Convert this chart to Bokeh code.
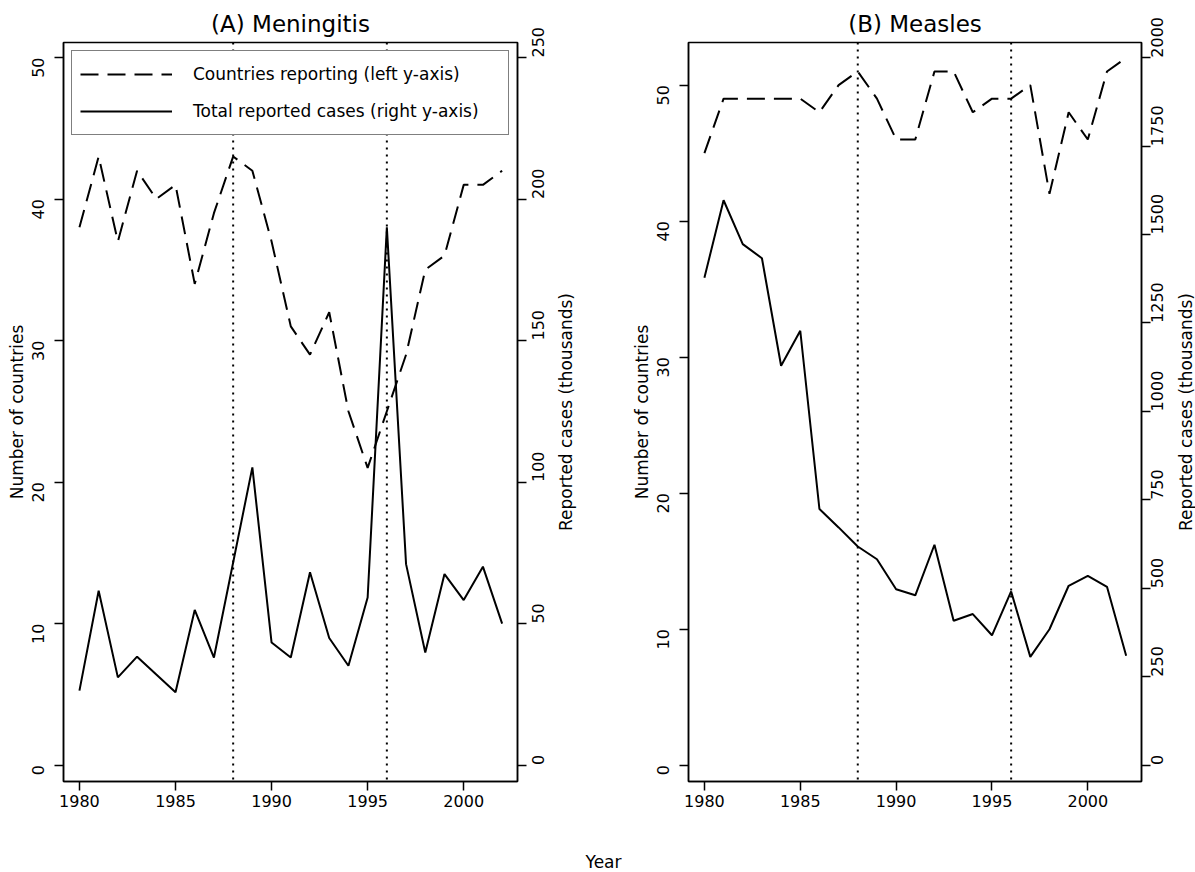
import math
from bokeh.plotting import figure
from bokeh.models import Range1d, LinearAxis, FixedTicker, Span, Legend, LegendItem, Label
from bokeh.layouts import row, column
from bokeh.embed import file_html
from bokeh.resources import INLINE

# ---- data ----
years = list(range(1980, 2003))
men_countries = [38, 43, 37, 42, 40, 41, 34, 39, 43, 42, 37, 31, 29, 32, 25, 21, 25, 29, 35, 36, 41, 41, 42]
men_cases = [26.3, 61.6, 31.0, 38.3, 32.0, 25.7, 54.8, 38.0, 71.6, 105.2, 43.3, 38.0, 68.1, 44.9, 35.1,
             59.2, 190.0, 71.0, 39.8, 67.5, 58.3, 70.1, 50.0]
mea_countries = [45, 49, 49, 49, 49, 49, 48, 50, 51, 49, 46, 46, 51, 51, 48, 49, 49, 50, 42, 48, 46, 51, 52]
mea_cases = [1378, 1597, 1473, 1433, 1129, 1228, 724, 672, 618, 582, 497, 480, 623, 408, 427,
             367, 491, 306, 384, 507, 535, 504, 309]
event_years = [1988, 1996]
x_ticks = [1980, 1985, 1990, 1995, 2000]
men_left_ticks = [0, 10, 20, 30, 40, 50]
men_right_ticks = [0, 50, 100, 150, 200, 250]
mea_left_ticks = [0, 10, 20, 30, 40, 50]
mea_right_ticks = [0, 250, 500, 750, 1000, 1250, 1500, 1750, 2000]

FONT = "DejaVu Sans"
DASH = "18 9"
H = 840
FRAME_H = 739


def style_axis(ax, ticks):
    ax.ticker = FixedTicker(ticks=ticks)
    ax.axis_line_color = "black"
    ax.axis_line_width = 1.5
    ax.major_tick_line_color = "black"
    ax.major_tick_line_width = 1.5
    ax.major_tick_out = 9
    ax.major_tick_in = 0
    ax.minor_tick_line_color = None
    ax.major_label_text_font = FONT
    ax.major_label_text_font_size = "16px"
    ax.major_label_text_color = "black"
    ax.axis_label_text_font = FONT
    ax.axis_label_text_font_size = "17px"
    ax.axis_label_text_font_style = "normal"
    ax.axis_label_text_color = "black"


def make_panel(title, countries, cases, ylim_left, ylim_right, lticks, rticks,
               width, bl, br, r_label_standoff, legend):
    p = figure(width=width, height=H, output_backend="svg", toolbar_location=None,
               x_range=Range1d(1979.17, 2002.8), y_range=Range1d(*ylim_left),
               min_border_left=bl, min_border_right=br, min_border_top=42, min_border_bottom=59)
    p.extra_y_ranges = {"cases": Range1d(*ylim_right)}
    p.title.text = title
    p.title.align = "center"
    p.title.text_font = FONT
    p.title.text_font_size = "23px"
    p.title.text_font_style = "normal"
    p.title.text_color = "black"
    p.title.standoff = 11
    p.xgrid.visible = False
    p.ygrid.visible = False
    p.outline_line_color = "black"
    p.outline_line_width = 1.5
    p.background_fill_color = "white"
    p.border_fill_color = "white"

    xa = p.xaxis[0]
    style_axis(xa, x_ticks)
    xa.major_label_standoff = 4

    ya = p.yaxis[0]
    style_axis(ya, lticks)
    ya.major_label_orientation = math.pi / 2
    ya.major_label_standoff = 16
    ya.axis_label = "Number of countries"
    ya.axis_label_standoff = -3

    rax = LinearAxis(y_range_name="cases")
    style_axis(rax, rticks)
    rax.major_label_orientation = math.pi / 2
    rax.major_label_standoff = r_label_standoff
    p.add_layout(rax, "right")

    for yr in event_years:
        p.add_layout(Span(location=yr, dimension="height", line_color="black",
                          line_width=2, line_dash="2 5"))

    r_dash = p.line(years, countries, line_color="black", line_width=2, line_dash=DASH)
    r_solid = p.line(years, cases, y_range_name="cases", line_color="black", line_width=2)

    if legend:
        lg = Legend(items=[LegendItem(label="Countries reporting (left y-axis)", renderers=[r_dash]),
                           LegendItem(label="Total reported cases (right y-axis)", renderers=[r_solid])],
                    location="top_left")
        lg.margin = 8
        lg.padding = 8
        lg.spacing = 7
        lg.glyph_width = 92
        lg.glyph_height = 30
        lg.label_height = 30
        lg.label_width = 307
        lg.label_standoff = 21
        lg.label_text_font = FONT
        lg.label_text_font_size = "17px"
        lg.label_text_color = "black"
        lg.border_line_color = "black"
        lg.border_line_width = 1.5
        lg.background_fill_color = "white"
        lg.background_fill_alpha = 1.0
        p.add_layout(lg)
    return p


def text_strip(width, height, text, x, y, angle):
    """A bare figure without axes, holding one text label."""
    t = figure(width=width, height=height, output_backend="svg", toolbar_location=None,
               x_range=Range1d(0, 1), y_range=Range1d(0, 1), x_axis_type=None, y_axis_type=None,
               min_border=0)
    t.outline_line_color = None
    t.xgrid.visible = False
    t.ygrid.visible = False
    t.add_layout(Label(x=x, y=y, x_units="screen", y_units="screen", text=text, angle=angle,
                       text_font=FONT, text_font_size="17px", text_color="black",
                       text_align="center", text_baseline="middle"))
    return t


p1 = make_panel("(A) Meningitis", men_countries, men_cases, (-1.16, 51.06), (-5.8, 255.3),
                men_left_ticks, men_right_ticks, 557, 63, 40, 12, True)
# the strips in the row get their frames aligned with the panels' frames (42..781)
t1 = text_strip(43, H, "Reported cases (thousands)", 8, FRAME_H / 2, math.pi / 2)
p2 = make_panel("(B) Measles", mea_countries, mea_cases, (-1.21, 53.13), (-46.4, 2043.0),
                mea_left_ticks, mea_right_ticks, 575, 88, 34, 7, False)
t2 = text_strip(20, H, "Reported cases (thousands)", 10, FRAME_H / 2, math.pi / 2)

p3 = text_strip(1195, 32, "Year", 603, 10.5, 0)

layout = column(row(p1, t1, p2, t2), p3)
open("out.html", "w").write(file_html(layout, INLINE))
